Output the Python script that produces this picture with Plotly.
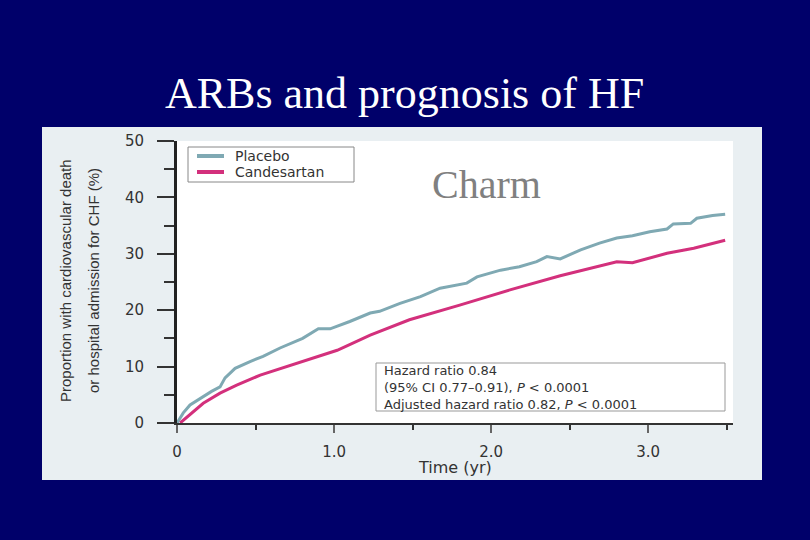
import plotly.graph_objects as go

# Kaplan-Meier style cumulative event curves
placebo_t = [0, 0.04, 0.083, 0.167, 0.22, 0.274, 0.306, 0.37, 0.465, 0.548, 0.656,
             0.80, 0.90, 0.975, 1.10, 1.23, 1.29, 1.42, 1.55, 1.675, 1.845, 1.91,
             2.06, 2.18, 2.29, 2.355, 2.44, 2.57, 2.69, 2.80, 2.90, 3.01, 3.12,
             3.16, 3.27, 3.31, 3.41, 3.49]
placebo_y = [0, 1.8, 3.2, 4.7, 5.6, 6.4, 8.0, 9.7, 10.9, 11.8, 13.3,
             15.0, 16.7, 16.7, 18.0, 19.5, 19.8, 21.2, 22.4, 23.9, 24.8, 25.9,
             27.1, 27.7, 28.6, 29.5, 29.1, 30.7, 31.9, 32.8, 33.2, 33.9, 34.4,
             35.3, 35.4, 36.3, 36.8, 37.0]

cand_t = [0.02, 0.04, 0.167, 0.274, 0.38, 0.53, 0.70, 0.87, 1.02, 1.23, 1.48,
          1.80, 2.12, 2.44, 2.59, 2.80, 2.90, 3.12, 3.29, 3.49]
cand_y = [0, 0.5, 3.5, 5.3, 6.7, 8.5, 10.0, 11.5, 12.9, 15.6, 18.3,
          20.9, 23.6, 26.1, 27.1, 28.6, 28.4, 30.1, 31.0, 32.4]

series_names = ["Placebo", "Candesartan"]
series_colors = ["#7FA9B3", "#D3307C"]

x_tickvals = [0, 1, 2, 3]
x_ticktext = ["0", "1.0", "2.0", "3.0"]
y_tickvals = [0, 10, 20, 30, 40, 50]

stats_lines = ["Hazard ratio 0.84",
               "(95% CI 0.77\u20130.91), <i>P</i> < 0.0001",
               "Adjusted hazard ratio 0.82, <i>P</i> < 0.0001"]

NAVY = "#00006A"
PANEL = "#E9EFF2"
INK = "#333333"
SANS = "DejaVu Sans, Liberation Sans, sans-serif"
SERIF = "Liberation Serif, Times New Roman, serif"

# plot area in pixels (810x540 canvas)
L, R, T, B = 177, 733, 141, 423


def px(x):
    return (x - L) / (R - L)


def py(y):
    return (B - y) / (B - T)


fig = go.Figure()
for name, tx, ty, col in zip(series_names, [placebo_t, cand_t], [placebo_y, cand_y],
                             series_colors):
    fig.add_trace(go.Scatter(x=tx, y=ty, mode="lines", name=name,
                             line=dict(color=col, width=3), showlegend=False))

shapes = [
    # light slide panel behind the figure, then the white plot area
    dict(type="rect", xref="paper", yref="paper", x0=px(42), x1=px(762),
         y0=py(480), y1=py(127), fillcolor=PANEL, line_width=0, layer="below"),
    dict(type="rect", xref="paper", yref="paper", x0=0, x1=1, y0=0, y1=1,
         fillcolor="white", line_width=0, layer="below"),
    # legend box
    dict(type="rect", xref="paper", yref="paper", x0=px(188), x1=px(354),
         y0=py(182), y1=py(147), fillcolor="white",
         line=dict(color="#888888", width=1)),
    # stats box
    dict(type="rect", xref="paper", yref="paper", x0=px(376), x1=px(725),
         y0=py(411), y1=py(363), fillcolor="white",
         line=dict(color="#999999", width=1)),
]

annotations = [
    dict(text="ARBs and prognosis of HF", xref="paper", yref="paper",
         x=px(404), y=py(94), xanchor="center", yanchor="middle", showarrow=False,
         font=dict(family=SERIF, size=44, color="white")),
    dict(text="Charm", x=1.97, y=42.2, xanchor="center", yanchor="middle",
         showarrow=False, font=dict(family=SERIF, size=40, color="#808080")),
    dict(text="Proportion with cardiovascular death", xref="paper", yref="paper",
         x=px(65), y=py(281), xanchor="center", yanchor="middle", textangle=-90,
         showarrow=False, font=dict(family="Liberation Sans, sans-serif",
                                    size=15, color=INK)),
    dict(text="or hospital admission for CHF (%)", xref="paper", yref="paper",
         x=px(93), y=py(281), xanchor="center", yanchor="middle", textangle=-90,
         showarrow=False, font=dict(family="Liberation Sans, sans-serif",
                                    size=15, color=INK)),
    dict(text="Time (yr)", xref="paper", yref="paper", x=0.5, y=py(467),
         xanchor="center", yanchor="middle",
         showarrow=False, font=dict(family=SANS, size=16, color=INK)),
    dict(text="<br>".join(stats_lines), xref="paper", yref="paper",
         x=px(382), y=py(387), xanchor="left", yanchor="middle", align="left",
         showarrow=False, font=dict(family=SANS, size=13, color=INK)),
]

# hand-drawn legend to match the compact box of the slide
for i, (name, col) in enumerate(zip(series_names, series_colors)):
    ypix = 156 + i * 16
    shapes.append(dict(type="line", xref="paper", yref="paper",
                       x0=px(197), x1=px(224), y0=py(ypix), y1=py(ypix),
                       line=dict(color=col, width=4)))
    annotations.append(dict(text=name, xref="paper", yref="paper",
                            x=px(234), y=py(ypix), xanchor="left", yanchor="middle",
                            showarrow=False, borderpad=0,
                            font=dict(family=SANS, size=14, color=INK)))

fig.update_layout(
    width=810, height=540, autosize=False,
    paper_bgcolor=NAVY, plot_bgcolor="white",
    margin=dict(l=L, r=810 - R, t=T, b=540 - B, pad=0),
    shapes=shapes, annotations=annotations,
)

fig.update_xaxes(
    range=[0, 3.54], tickvals=x_tickvals, ticktext=x_ticktext,
    showgrid=False, zeroline=False, showline=True, linecolor="#333333", linewidth=2,
    ticks="outside", ticklen=8, tickwidth=2, tickcolor="#666666",
    ticklabelstandoff=6,
    minor=dict(dtick=0.5, ticks="outside", ticklen=5, tickwidth=2, tickcolor="#333333"),
    tickfont=dict(family=SANS, size=15, color=INK),
)
fig.update_yaxes(
    range=[0, 50], tickvals=y_tickvals,
    showgrid=False, zeroline=False, showline=True, linecolor="#222222", linewidth=3,
    ticks="outside", ticklen=17, tickwidth=2, tickcolor="#333333",
    ticklabelstandoff=10,
    minor=dict(dtick=5, ticks="outside", ticklen=10, tickwidth=2, tickcolor="#333333"),
    tickfont=dict(family=SANS, size=15, color=INK),
)

fig.write_html("out.html", config={"displayModeBar": False},
               post_script="document.body.style.margin = '0';")
